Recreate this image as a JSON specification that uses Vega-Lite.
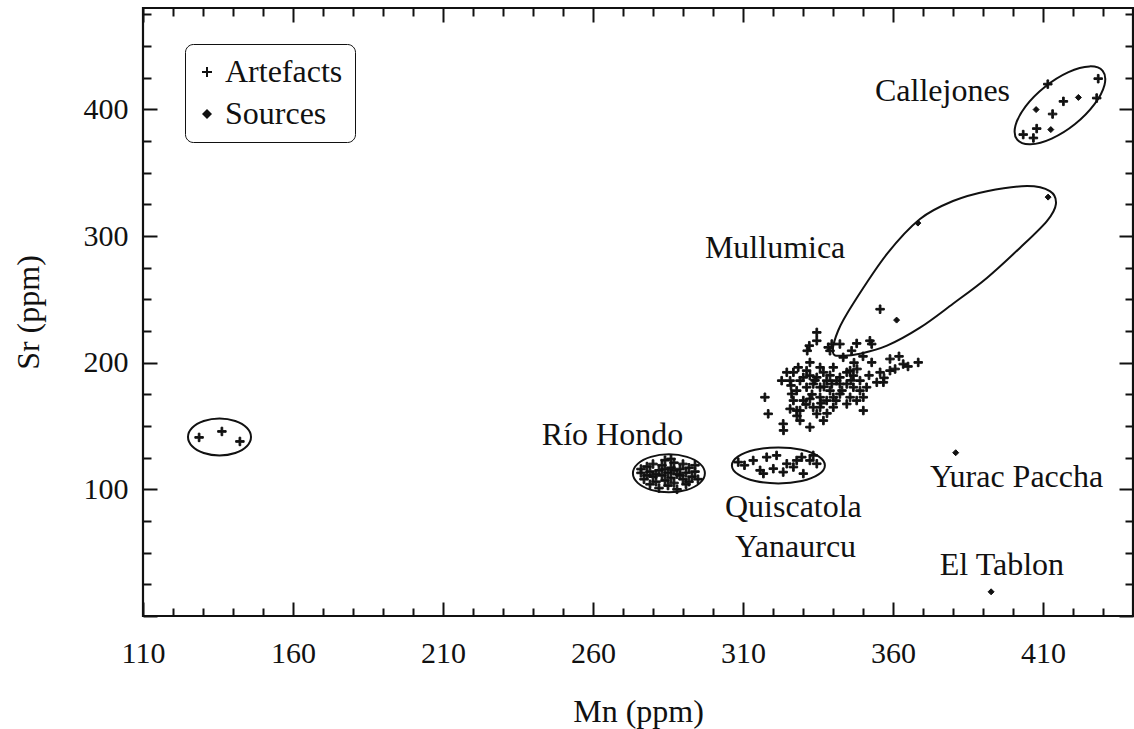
{
"$schema": "https://vega.github.io/schema/vega-lite/v6.json",
"width": 990, "height": 608,
"autosize": "none",
"padding": {"left": 143, "top": 8, "right": 1, "bottom": 113},
"background": "white",
"config": {
  "view": {"stroke": "#111", "strokeWidth": 2.2},
  "font": "Liberation Serif",
  "axis": {"labelFont": "Liberation Serif", "titleFont": "Liberation Serif", "labelColor": "#111", "titleColor": "#111", "labelFontSize": 30, "titleFontSize": 32, "titleFontWeight": "normal", "tickColor": "#111", "tickWidth": 2, "domain": false, "grid": false, "labelFlush": false, "labelOverlap": false},
  "legend": {"labelFont": "Liberation Serif", "labelFontSize": 32, "labelColor": "#111", "strokeColor": "#111", "cornerRadius": 8, "padding": 12, "rowPadding": 10, "labelOffset": 2, "symbolOffset": -6, "symbolFillColor": "#111"}
},
"datasets": {
  "pts": [
    {"mn":128.7,"sr":141,"t":"Artefacts"},{"mn":136.3,"sr":145.7,"t":"Artefacts"},{"mn":142.3,"sr":137.8,"t":"Artefacts"},
    {"mn":276,"sr":113,"t":"Artefacts"},{"mn":277,"sr":108,"t":"Artefacts"},{"mn":278,"sr":118,"t":"Artefacts"},{"mn":279,"sr":104,"t":"Artefacts"},{"mn":279,"sr":114,"t":"Artefacts"},{"mn":280,"sr":110,"t":"Artefacts"},{"mn":280,"sr":120,"t":"Artefacts"},{"mn":281,"sr":106,"t":"Artefacts"},{"mn":282,"sr":115,"t":"Artefacts"},{"mn":282,"sr":101,"t":"Artefacts"},{"mn":283,"sr":111,"t":"Artefacts"},{"mn":283,"sr":119,"t":"Artefacts"},{"mn":284,"sr":107,"t":"Artefacts"},{"mn":284,"sr":123,"t":"Artefacts"},{"mn":285,"sr":113,"t":"Artefacts"},{"mn":285,"sr":103,"t":"Artefacts"},{"mn":286,"sr":117,"t":"Artefacts"},{"mn":286,"sr":109,"t":"Artefacts"},{"mn":287,"sr":121,"t":"Artefacts"},{"mn":287,"sr":105,"t":"Artefacts"},{"mn":288,"sr":112,"t":"Artefacts"},{"mn":288,"sr":100,"t":"Artefacts"},{"mn":289,"sr":116,"t":"Artefacts"},{"mn":290,"sr":108,"t":"Artefacts"},{"mn":290,"sr":120,"t":"Artefacts"},{"mn":291,"sr":113,"t":"Artefacts"},{"mn":291,"sr":104,"t":"Artefacts"},{"mn":292,"sr":117,"t":"Artefacts"},{"mn":293,"sr":110,"t":"Artefacts"},{"mn":294,"sr":114,"t":"Artefacts"},{"mn":295,"sr":108,"t":"Artefacts"},{"mn":294,"sr":119,"t":"Artefacts"},{"mn":278,"sr":111,"t":"Artefacts"},{"mn":281,"sr":112,"t":"Artefacts"},{"mn":284,"sr":116,"t":"Artefacts"},{"mn":287,"sr":115,"t":"Artefacts"},{"mn":289,"sr":111,"t":"Artefacts"},{"mn":276,"sr":116,"t":"Artefacts"},{"mn":292,"sr":106,"t":"Artefacts"},{"mn":286,"sr":124,"t":"Artefacts"},
    {"mn":308.4,"sr":121.5,"t":"Artefacts"},{"mn":313.4,"sr":122.8,"t":"Artefacts"},{"mn":315.7,"sr":115,"t":"Artefacts"},{"mn":317.9,"sr":125.4,"t":"Artefacts"},{"mn":321.2,"sr":126.8,"t":"Artefacts"},{"mn":320.1,"sr":116.3,"t":"Artefacts"},{"mn":323.4,"sr":113.6,"t":"Artefacts"},{"mn":324.6,"sr":120.2,"t":"Artefacts"},{"mn":326.8,"sr":117.6,"t":"Artefacts"},{"mn":327.9,"sr":122.8,"t":"Artefacts"},{"mn":329.6,"sr":125.4,"t":"Artefacts"},{"mn":330.1,"sr":112.4,"t":"Artefacts"},{"mn":332.3,"sr":122.8,"t":"Artefacts"},{"mn":333.4,"sr":126.8,"t":"Artefacts"},{"mn":334.6,"sr":120.2,"t":"Artefacts"},{"mn":316.8,"sr":112.4,"t":"Artefacts"},{"mn":310.5,"sr":119,"t":"Artefacts"},
    {"mn":411.6,"sr":419.9,"t":"Artefacts"},{"mn":428.4,"sr":424.2,"t":"Artefacts"},{"mn":427.9,"sr":408.9,"t":"Artefacts"},{"mn":416.8,"sr":406.3,"t":"Artefacts"},{"mn":413.2,"sr":396.3,"t":"Artefacts"},{"mn":407.9,"sr":384.8,"t":"Artefacts"},{"mn":403.4,"sr":380.1,"t":"Artefacts"},{"mn":406.8,"sr":377.4,"t":"Artefacts"},
    {"mn":334.6,"sr":223.9,"t":"Artefacts"},{"mn":334.6,"sr":217.3,"t":"Artefacts"},{"mn":332.1,"sr":213.4,"t":"Artefacts"},{"mn":331.4,"sr":209.4,"t":"Artefacts"},{"mn":338.4,"sr":212.1,"t":"Artefacts"},{"mn":339.6,"sr":214.7,"t":"Artefacts"},{"mn":342.3,"sr":214.7,"t":"Artefacts"},{"mn":347.9,"sr":215.2,"t":"Artefacts"},{"mn":352.3,"sr":217.3,"t":"Artefacts"},{"mn":352.9,"sr":214.7,"t":"Artefacts"},{"mn":355.7,"sr":242.2,"t":"Artefacts"},{"mn":343.4,"sr":204.2,"t":"Artefacts"},{"mn":346.2,"sr":209.4,"t":"Artefacts"},{"mn":352.9,"sr":200.2,"t":"Artefacts"},{"mn":359,"sr":202.9,"t":"Artefacts"},{"mn":363.4,"sr":198.9,"t":"Artefacts"},{"mn":368.4,"sr":200.2,"t":"Artefacts"},{"mn":355.7,"sr":192.4,"t":"Artefacts"},{"mn":359,"sr":193.7,"t":"Artefacts"},{"mn":360.7,"sr":195,"t":"Artefacts"},{"mn":354.6,"sr":184.5,"t":"Artefacts"},{"mn":356.8,"sr":184.5,"t":"Artefacts"},{"mn":345.7,"sr":193.7,"t":"Artefacts"},{"mn":341.2,"sr":185.8,"t":"Artefacts"},{"mn":336.8,"sr":192.4,"t":"Artefacts"},{"mn":332.3,"sr":200.2,"t":"Artefacts"},{"mn":331.2,"sr":193.7,"t":"Artefacts"},{"mn":324.6,"sr":192.4,"t":"Artefacts"},{"mn":322.9,"sr":185.8,"t":"Artefacts"},{"mn":328.4,"sr":196.3,"t":"Artefacts"},{"mn":329,"sr":185.8,"t":"Artefacts"},{"mn":331.2,"sr":180.6,"t":"Artefacts"},{"mn":333.4,"sr":183.2,"t":"Artefacts"},{"mn":335.7,"sr":180.6,"t":"Artefacts"},{"mn":337.9,"sr":185.8,"t":"Artefacts"},{"mn":339.6,"sr":183.2,"t":"Artefacts"},{"mn":342.3,"sr":183.2,"t":"Artefacts"},{"mn":344.6,"sr":183.2,"t":"Artefacts"},{"mn":346.8,"sr":180.6,"t":"Artefacts"},{"mn":349,"sr":177.9,"t":"Artefacts"},{"mn":350.1,"sr":172.7,"t":"Artefacts"},{"mn":347.9,"sr":170.1,"t":"Artefacts"},{"mn":345.7,"sr":172.7,"t":"Artefacts"},{"mn":342.3,"sr":175.3,"t":"Artefacts"},{"mn":340.1,"sr":172.7,"t":"Artefacts"},{"mn":337.9,"sr":170.1,"t":"Artefacts"},{"mn":335.7,"sr":164.8,"t":"Artefacts"},{"mn":334.6,"sr":159.6,"t":"Artefacts"},{"mn":336.8,"sr":154.3,"t":"Artefacts"},{"mn":332.3,"sr":149.1,"t":"Artefacts"},{"mn":329,"sr":154.3,"t":"Artefacts"},{"mn":327.9,"sr":162.2,"t":"Artefacts"},{"mn":325.7,"sr":163.5,"t":"Artefacts"},{"mn":323.4,"sr":151.7,"t":"Artefacts"},{"mn":318.4,"sr":159.6,"t":"Artefacts"},{"mn":317.3,"sr":172.7,"t":"Artefacts"},{"mn":326.2,"sr":175.3,"t":"Artefacts"},{"mn":330.1,"sr":170.1,"t":"Artefacts"},{"mn":327.9,"sr":177.9,"t":"Artefacts"},{"mn":332.3,"sr":171.4,"t":"Artefacts"},{"mn":344.6,"sr":167.4,"t":"Artefacts"},{"mn":350.1,"sr":162.2,"t":"Artefacts"},{"mn":340.1,"sr":164.8,"t":"Artefacts"},{"mn":342.3,"sr":188.4,"t":"Artefacts"},{"mn":344.6,"sr":192.4,"t":"Artefacts"},{"mn":334.6,"sr":188.4,"t":"Artefacts"},{"mn":339,"sr":177.9,"t":"Artefacts"},{"mn":332.3,"sr":189.8,"t":"Artefacts"},{"mn":330.1,"sr":188.4,"t":"Artefacts"},{"mn":339,"sr":209.4,"t":"Artefacts"},{"mn":325.7,"sr":185.8,"t":"Artefacts"},{"mn":326.8,"sr":170.1,"t":"Artefacts"},{"mn":329,"sr":162.2,"t":"Artefacts"},{"mn":333.4,"sr":164.8,"t":"Artefacts"},{"mn":335.7,"sr":172.7,"t":"Artefacts"},{"mn":326.8,"sr":192.4,"t":"Artefacts"},{"mn":346.8,"sr":189.8,"t":"Artefacts"},{"mn":335.7,"sr":196.3,"t":"Artefacts"},{"mn":340.1,"sr":196.3,"t":"Artefacts"},{"mn":349,"sr":185.8,"t":"Artefacts"},{"mn":351.2,"sr":180.6,"t":"Artefacts"},
    {"mn":333,"sr":175,"t":"Artefacts"},{"mn":336,"sr":168,"t":"Artefacts"},{"mn":338,"sr":160,"t":"Artefacts"},{"mn":341,"sr":170,"t":"Artefacts"},{"mn":343,"sr":178,"t":"Artefacts"},{"mn":331,"sr":167,"t":"Artefacts"},{"mn":328,"sr":158,"t":"Artefacts"},{"mn":334,"sr":186,"t":"Artefacts"},{"mn":337,"sr":181,"t":"Artefacts"},{"mn":346,"sr":186,"t":"Artefacts"},{"mn":348,"sr":195,"t":"Artefacts"},{"mn":352,"sr":190,"t":"Artefacts"},{"mn":357,"sr":188,"t":"Artefacts"},{"mn":362,"sr":205,"t":"Artefacts"},{"mn":365,"sr":197,"t":"Artefacts"},{"mn":350,"sr":205,"t":"Artefacts"},{"mn":347,"sr":200,"t":"Artefacts"},{"mn":339,"sr":190,"t":"Artefacts"},{"mn":326,"sr":182,"t":"Artefacts"},{"mn":323.5,"sr":146.5,"t":"Artefacts"},
    {"mn":407.7,"sr":399.8,"t":"Sources"},{"mn":421.8,"sr":409.4,"t":"Sources"},{"mn":412.6,"sr":384,"t":"Sources"},{"mn":368.3,"sr":310.2,"t":"Sources"},{"mn":411.7,"sr":330.7,"t":"Sources"},{"mn":361.2,"sr":233.6,"t":"Sources"},{"mn":380.9,"sr":128.9,"t":"Sources"},{"mn":392.7,"sr":19.1,"t":"Sources"}
  ],
  "ell": [
    {"g":"a","i":0,"mn":146.0,"sr":141.3},{"g":"a","i":1,"mn":144.6,"sr":148.6},{"g":"a","i":2,"mn":140.75,"sr":153.9},{"g":"a","i":3,"mn":135.5,"sr":155.9},{"g":"a","i":4,"mn":130.25,"sr":153.9},{"g":"a","i":5,"mn":126.4,"sr":148.6},{"g":"a","i":6,"mn":125.0,"sr":141.3},{"g":"a","i":7,"mn":126.4,"sr":134.0},{"g":"a","i":8,"mn":130.25,"sr":128.7},{"g":"a","i":9,"mn":135.5,"sr":126.7},{"g":"a","i":10,"mn":140.75,"sr":128.7},{"g":"a","i":11,"mn":144.6,"sr":134.0},
    {"g":"b","i":0,"mn":297.3,"sr":112.6},{"g":"b","i":1,"mn":295.7,"sr":120.1},{"g":"b","i":2,"mn":291.3,"sr":125.6},{"g":"b","i":3,"mn":285.3,"sr":127.6},{"g":"b","i":4,"mn":279.3,"sr":125.6},{"g":"b","i":5,"mn":274.9,"sr":120.1},{"g":"b","i":6,"mn":273.3,"sr":112.6},{"g":"b","i":7,"mn":274.9,"sr":105.1},{"g":"b","i":8,"mn":279.3,"sr":99.6},{"g":"b","i":9,"mn":285.3,"sr":97.6},{"g":"b","i":10,"mn":291.3,"sr":99.6},{"g":"b","i":11,"mn":295.7,"sr":105.1},
    {"g":"c","i":0,"mn":337.3,"sr":118.9},{"g":"c","i":1,"mn":335.2,"sr":126.0},{"g":"c","i":2,"mn":329.55,"sr":131.2},{"g":"c","i":3,"mn":321.8,"sr":133.1},{"g":"c","i":4,"mn":314.05,"sr":131.2},{"g":"c","i":5,"mn":308.4,"sr":126.0},{"g":"c","i":6,"mn":306.3,"sr":118.9},{"g":"c","i":7,"mn":308.4,"sr":111.8},{"g":"c","i":8,"mn":314.05,"sr":106.6},{"g":"c","i":9,"mn":321.8,"sr":104.7},{"g":"c","i":10,"mn":329.55,"sr":106.6},{"g":"c","i":11,"mn":335.2,"sr":111.8},
    {"g":"d","i":0,"mn":429.9,"sr":430.3},{"g":"d","i":1,"mn":430.5,"sr":419.3},{"g":"d","i":2,"mn":427.1,"sr":403.9},{"g":"d","i":3,"mn":420.7,"sr":388.4},{"g":"d","i":4,"mn":412.9,"sr":376.9},{"g":"d","i":5,"mn":405.8,"sr":372.4},{"g":"d","i":6,"mn":401.4,"sr":376.0},{"g":"d","i":7,"mn":400.8,"sr":387.0},{"g":"d","i":8,"mn":404.2,"sr":402.4},{"g":"d","i":9,"mn":410.7,"sr":417.9},{"g":"d","i":10,"mn":418.5,"sr":429.4},{"g":"d","i":11,"mn":425.5,"sr":433.9},
    {"g":"e","i":0,"mn":340,"sr":207.9},{"g":"e","i":1,"mn":341.7,"sr":225.2},{"g":"e","i":2,"mn":346.7,"sr":246.5},{"g":"e","i":3,"mn":358,"sr":285.8},{"g":"e","i":4,"mn":369,"sr":313.4},{"g":"e","i":5,"mn":380,"sr":327.6},{"g":"e","i":6,"mn":391.3,"sr":335.4},{"g":"e","i":7,"mn":404.7,"sr":339.4},{"g":"e","i":8,"mn":412.3,"sr":335.4},{"g":"e","i":9,"mn":414.3,"sr":325.2},{"g":"e","i":10,"mn":411.3,"sr":311.8},{"g":"e","i":11,"mn":402.3,"sr":290.6},{"g":"e","i":12,"mn":391.3,"sr":266.9},{"g":"e","i":13,"mn":380,"sr":246.5},{"g":"e","i":14,"mn":369,"sr":227.6},{"g":"e","i":15,"mn":358,"sr":213.4},{"g":"e","i":16,"mn":349,"sr":207.1},{"g":"e","i":17,"mn":343,"sr":205.5}
  ],
  "lab": [
    {"txt":"Callejones","mn":376.5,"sr":414.6},
    {"txt":"Mullumica","mn":320.7,"sr":290.5},
    {"txt":"Río Hondo","mn":266.5,"sr":142.9},
    {"txt":"Quiscatola","mn":326.8,"sr":86.3},
    {"txt":"Yanaurcu","mn":327.5,"sr":54.7},
    {"txt":"Yurac Paccha","mn":401.2,"sr":110},
    {"txt":"El Tablon","mn":396.3,"sr":40.3}
  ]
},
"layer": [
  {
    "data": {"name": "ell"},
    "mark": {"type": "line", "interpolate": "cardinal-closed", "stroke": "#111", "strokeWidth": 2},
    "encoding": {
      "x": {"field": "mn", "type": "quantitative", "scale": {"domain": [110, 440], "nice": false, "zero": false},
        "axis": {"orient": "bottom", "title": "Mn (ppm)", "values": [110,120,130,140,150,160,170,180,190,200,210,220,230,240,250,260,270,280,290,300,310,320,330,340,350,360,370,380,390,400,410,420,430,440],
          "labelExpr": "datum.value % 50 === 10 ? datum.label : ''",
          "tickSize": {"condition": {"test": "datum.value % 50 === 10", "value": -14}, "value": -8},
          "labelPadding": 36, "titlePadding": 22}},
      "y": {"field": "sr", "type": "quantitative", "scale": {"domain": [0, 480], "nice": false, "zero": false},
        "axis": {"orient": "left", "title": "Sr (ppm)", "values": [0,25,50,75,100,125,150,175,200,225,250,275,300,325,350,375,400,425,450,475],
          "labelExpr": "datum.value % 100 === 0 && datum.value > 0 ? datum.label : ''",
          "tickSize": {"condition": {"test": "datum.value % 100 === 0", "value": -14}, "value": -8},
          "labelPadding": 29, "titlePadding": 38}},
      "detail": {"field": "g"},
      "order": {"field": "i", "type": "quantitative"}
    }
  },
  {
    "data": {"name": "pts"},
    "mark": {"type": "point", "filled": true, "fill": "#111", "stroke": "#111", "strokeWidth": 1, "opacity": 1},
    "encoding": {
      "x": {"field": "mn", "type": "quantitative",
        "axis": {"orient": "top", "title": null, "labels": false, "values": [110,120,130,140,150,160,170,180,190,200,210,220,230,240,250,260,270,280,290,300,310,320,330,340,350,360,370,380,390,400,410,420,430,440],
          "tickSize": {"condition": {"test": "datum.value % 50 === 10", "value": -14}, "value": -8}}},
      "y": {"field": "sr", "type": "quantitative",
        "axis": {"orient": "right", "title": null, "labels": false, "values": [0,25,50,75,100,125,150,175,200,225,250,275,300,325,350,375,400,425,450,475],
          "tickSize": {"condition": {"test": "datum.value % 100 === 0", "value": -14}, "value": -8}}},
      "shape": {"field": "t", "type": "nominal", "scale": {"domain": ["Artefacts", "Sources"], "range": ["M-1,-0.2H-0.2V-1H0.2V-0.2H1V0.2H0.2V1H-0.2V0.2H-1Z", "diamond"]},
        "legend": {"title": null, "orient": "none", "legendX": 42, "legendY": 36, "symbolFillColor": "#111", "symbolStrokeWidth": 0}},
      "size": {"condition": [{"test": "datum.t === 'Artefacts'", "value": 72}, {"test": "datum.t === 'Sources'", "value": 36}], "value": 190}
    }
  },
  {
    "data": {"name": "lab"},
    "mark": {"type": "text", "font": "Liberation Serif", "fontSize": 32, "align": "center", "baseline": "middle", "color": "#111"},
    "encoding": {
      "x": {"field": "mn", "type": "quantitative", "axis": null},
      "y": {"field": "sr", "type": "quantitative", "axis": null},
      "text": {"field": "txt"}
    }
  }
],
"resolve": {"axis": {"x": "independent", "y": "independent"}}
}
